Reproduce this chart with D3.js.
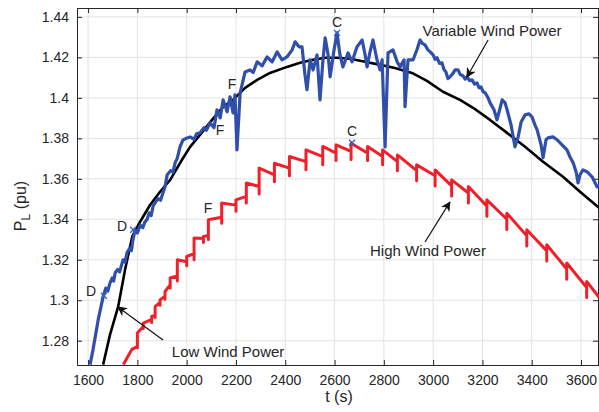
<!DOCTYPE html>
<html>
<head>
<meta charset="utf-8">
<script src="https://cdn.jsdelivr.net/npm/d3@7"></script>
<style>
  body { margin: 0; background: #fff; }
  text { font-family: "Liberation Sans", Arial, sans-serif; fill: #262626; }
</style>
</head>
<body>
<svg id="chart" width="599" height="412"></svg>
<script>
// axis ticks
const xTicks = [1600, 1800, 2000, 2200, 2400, 2600, 2800, 3000, 3200, 3400, 3600];
const yTicks = [1.28, 1.3, 1.32, 1.34, 1.36, 1.38, 1.4, 1.42, 1.44];

// Low wind power (black) [t, P]
const lowWind = [
  [1661, 1.2682], [1689, 1.2830], [1722, 1.2968], [1750, 1.3151], [1779, 1.3314],
  [1811, 1.3388], [1852, 1.3472], [1892, 1.3536], [1933, 1.3595], [1981, 1.3694],
  [2014, 1.3758], [2054, 1.3817], [2103, 1.3891], [2144, 1.3951], [2188, 1.3990],
  [2237, 1.4049], [2286, 1.4089], [2338, 1.4123], [2407, 1.4153], [2460, 1.4173],
  [2513, 1.4188], [2562, 1.4198], [2610, 1.4198], [2663, 1.4193], [2724, 1.4178],
  [2785, 1.4163], [2845, 1.4148], [2914, 1.4123], [2975, 1.4084], [3040, 1.4030],
  [3109, 1.3990], [3162, 1.3951], [3231, 1.3891], [3300, 1.3827], [3373, 1.3758],
  [3446, 1.3684], [3527, 1.3610], [3596, 1.3536], [3673, 1.3457]
];

// High wind power (red) teeth: [t, before jump, dip, after jump]
const highWind = [
  [1743, 1.2682, 1.2682, 1.2682], [1777, 1.2756, 1.2756, 1.2756],
  [1800, 1.2772, 1.2765, 1.2838], [1824, 1.2870, 1.2860, 1.2887],
  [1858, 1.2905, 1.2890, 1.2920], [1872, 1.2925, 1.2915, 1.2969],
  [1892, 1.2990, 1.2975, 1.3002], [1912, 1.3020, 1.3005, 1.3043],
  [1933, 1.3075, 1.3060, 1.3110], [1962, 1.3120, 1.3095, 1.3200],
  [2000, 1.3190, 1.3170, 1.3216], [2030, 1.3230, 1.3200, 1.3307],
  [2068, 1.3305, 1.3285, 1.3315], [2088, 1.3320, 1.3300, 1.3398],
  [2142, 1.3410, 1.3380, 1.3480], [2200, 1.3470, 1.3440, 1.3496],
  [2242, 1.3513, 1.3480, 1.3579], [2294, 1.3562, 1.3525, 1.3653],
  [2356, 1.3620, 1.3585, 1.3677], [2417, 1.3653, 1.3615, 1.3710],
  [2484, 1.3685, 1.3645, 1.3743], [2552, 1.3710, 1.3670, 1.3760],
  [2606, 1.3727, 1.3690, 1.3768], [2667, 1.3735, 1.3695, 1.3776],
  [2734, 1.3727, 1.3690, 1.3760], [2795, 1.3710, 1.3670, 1.3743],
  [2855, 1.3685, 1.3640, 1.3718], [2933, 1.3640, 1.3590, 1.3669],
  [3008, 1.3615, 1.3565, 1.3644], [3075, 1.3565, 1.3515, 1.3595],
  [3143, 1.3530, 1.3480, 1.3562], [3218, 1.3465, 1.3415, 1.3496],
  [3299, 1.3400, 1.3350, 1.3430], [3380, 1.3318, 1.3268, 1.3348],
  [3461, 1.3244, 1.3194, 1.3274], [3542, 1.3154, 1.3104, 1.3184],
  [3623, 1.3063, 1.3013, 1.3093], [3673, 1.3015, 1.3015, 1.3015]
];

// Variable wind power (blue) [t, P]
const variableWind = [
  [1608, 1.2682], [1620, 1.2756], [1641, 1.2904], [1661, 1.3017], [1672, 1.3060],
  [1680, 1.3045], [1689, 1.3086], [1698, 1.3110], [1704, 1.3095], [1710, 1.3136],
  [1720, 1.3152], [1728, 1.3140], [1742, 1.3200], [1750, 1.3188], [1758, 1.3235],
  [1770, 1.3259], [1776, 1.3245], [1782, 1.3300], [1791, 1.3348], [1800, 1.3332],
  [1812, 1.3372], [1822, 1.3358], [1830, 1.3386], [1839, 1.3398], [1848, 1.3432],
  [1856, 1.3418], [1864, 1.3466], [1872, 1.3481], [1884, 1.3502], [1894, 1.3494],
  [1904, 1.3531], [1912, 1.3560], [1921, 1.3620], [1935, 1.3640], [1945, 1.3633],
  [1953, 1.3679], [1962, 1.3702], [1973, 1.3758], [1985, 1.3792], [2002, 1.3802],
  [2014, 1.3807], [2030, 1.3795], [2040, 1.3822], [2054, 1.3827], [2070, 1.3852],
  [2080, 1.3840], [2095, 1.3877], [2111, 1.3852], [2123, 1.3941], [2136, 1.3901],
  [2148, 1.3990], [2164, 1.3931], [2176, 1.4005], [2188, 1.3926], [2196, 1.4015],
  [2204, 1.3743], [2217, 1.4025], [2237, 1.4128], [2257, 1.4138], [2270, 1.4125],
  [2286, 1.4178], [2306, 1.4158], [2326, 1.4202], [2347, 1.4178], [2367, 1.4227],
  [2387, 1.4188], [2407, 1.4202], [2428, 1.4237], [2440, 1.4277], [2456, 1.4252],
  [2468, 1.4252], [2480, 1.4114], [2488, 1.4040], [2501, 1.4188], [2513, 1.4138],
  [2529, 1.4212], [2541, 1.3990], [2553, 1.4188], [2562, 1.4296], [2574, 1.4212],
  [2582, 1.4104], [2598, 1.4237], [2610, 1.4321], [2622, 1.4212], [2634, 1.4153],
  [2655, 1.4222], [2671, 1.4178], [2691, 1.4252], [2712, 1.4286], [2724, 1.4212],
  [2732, 1.4153], [2744, 1.4227], [2756, 1.4286], [2772, 1.4188], [2785, 1.4138],
  [2793, 1.4188], [2805, 1.3758], [2817, 1.4222], [2837, 1.4237], [2854, 1.4178],
  [2866, 1.4153], [2882, 1.4188], [2886, 1.3956], [2898, 1.4188], [2919, 1.4188],
  [2935, 1.4240], [2947, 1.4286], [2957, 1.4268], [2967, 1.4262], [2979, 1.4237],
  [2990, 1.4225], [3000, 1.4212], [3008, 1.4190], [3016, 1.4198], [3026, 1.4170],
  [3036, 1.4173], [3044, 1.4140], [3052, 1.4128], [3060, 1.4095], [3069, 1.4104],
  [3080, 1.4120], [3089, 1.4138], [3101, 1.4138], [3110, 1.4115], [3121, 1.4109],
  [3130, 1.4092], [3138, 1.4104], [3148, 1.4085], [3158, 1.4089], [3168, 1.4068],
  [3178, 1.4074], [3186, 1.4050], [3194, 1.4054], [3203, 1.4030], [3211, 1.4025],
  [3223, 1.4000], [3231, 1.3975], [3247, 1.3941], [3259, 1.3891], [3272, 1.3951],
  [3280, 1.3990], [3292, 1.3975], [3300, 1.3941], [3316, 1.3867], [3332, 1.3758],
  [3345, 1.3807], [3357, 1.3881], [3373, 1.3916], [3389, 1.3921], [3401, 1.3906],
  [3413, 1.3867], [3422, 1.3842], [3438, 1.3768], [3446, 1.3704], [3458, 1.3793],
  [3466, 1.3802], [3486, 1.3807], [3503, 1.3793], [3523, 1.3768], [3543, 1.3743],
  [3555, 1.3709], [3568, 1.3679], [3580, 1.3635], [3588, 1.3580], [3596, 1.3620],
  [3608, 1.3644], [3624, 1.3635], [3645, 1.3610], [3665, 1.3560], [3677, 1.3570]
];

// point markers (x) and their letters
const markers = [
  { t: 1664, p: 1.3022 }, { t: 1783, p: 1.3348 },
  { t: 2610, p: 1.4321 }, { t: 2671, p: 1.3778 }
];
const letters = [
  { text: 'D', t: 1612, p: 1.3021 }, { text: 'D', t: 1738, p: 1.3342 },
  { text: 'C', t: 2610, p: 1.4350 }, { text: 'C', t: 2671, p: 1.3811 },
  { text: 'F', t: 2184, p: 1.4044 }, { text: 'F', t: 2135, p: 1.3816 },
  { text: 'F', t: 2087, p: 1.3431 }
];

// callouts: label position and arrow from -> to
const callouts = [
  { text: 'Variable Wind Power', t: 3239, p: 1.4306, from: [3223, 1.4286], to: [3137, 1.4103] },
  { text: 'High Wind Power', t: 2979, p: 1.3219, from: [2967, 1.3288], to: [3068, 1.3485] },
  { text: 'Low Wind Power', t: 2168, p: 1.2720, from: [1904, 1.2803], to: [1721, 1.2967] }
];

const svg = d3.select('#chart');
const plotLeft = 77, plotRight = 599, plotTop = 8, plotBottom = 365;

const x = d3.scaleLinear().domain([1555, 3673]).range([plotLeft, plotRight]);
const y = d3.scaleLinear().domain([1.268, 1.4444]).range([plotBottom, plotTop]);

const defs = svg.append('defs');
defs.append('clipPath').attr('id', 'plotClip')
  .append('rect')
  .attr('x', plotLeft).attr('y', plotTop)
  .attr('width', plotRight - plotLeft).attr('height', plotBottom - plotTop);

defs.append('marker')
  .attr('id', 'arrowHead')
  .attr('viewBox', '0 0 10 10')
  .attr('refX', 9).attr('refY', 5)
  .attr('markerWidth', 10).attr('markerHeight', 10)
  .attr('markerUnits', 'userSpaceOnUse')
  .attr('orient', 'auto')
  .append('path')
  .attr('d', 'M0,0 L10,5 L0,10 L3,5 Z')
  .attr('fill', '#111');

// grid
const grid = svg.append('g');
grid.selectAll('.vgrid').data(xTicks).enter().append('line')
  .attr('x1', d => x(d)).attr('x2', d => x(d))
  .attr('y1', plotTop).attr('y2', plotBottom)
  .attr('stroke', '#e3e3e3').attr('stroke-width', 1);
grid.selectAll('.hgrid').data(yTicks).enter().append('line')
  .attr('y1', d => y(d)).attr('y2', d => y(d))
  .attr('x1', plotLeft).attr('x2', plotRight)
  .attr('stroke', '#e3e3e3').attr('stroke-width', 1);

// axes with inward ticks
const xAxis = d3.axisBottom(x).tickValues(xTicks).tickSize(-5).tickPadding(10).tickFormat(d3.format('d'));
const yAxis = d3.axisLeft(y).tickValues(yTicks).tickSize(-5).tickPadding(8).tickFormat(d => String(d));

svg.append('g').attr('transform', `translate(0,${plotBottom})`).call(xAxis)
  .call(g => g.selectAll('text').attr('font-size', 14).attr('fill', '#262626'));
svg.append('g').attr('transform', `translate(${plotLeft},0)`).call(yAxis)
  .call(g => g.selectAll('text').attr('font-size', 14).attr('fill', '#262626'));
svg.append('g').attr('transform', `translate(0,${plotTop})`)
  .call(d3.axisTop(x).tickValues(xTicks).tickSize(-5).tickFormat(''));
svg.append('g').attr('transform', `translate(${plotRight - 1},0)`)
  .call(d3.axisRight(y).tickValues(yTicks).tickSize(-5).tickFormat(''));
svg.selectAll('.domain').attr('stroke', '#262626');
svg.selectAll('.tick line').attr('stroke', '#262626');

// series
const plot = svg.append('g').attr('clip-path', 'url(#plotClip)');
const line = d3.line().x(d => x(d[0])).y(d => y(d[1]));

const redPoints = [];
highWind.forEach(([t, pre, dip, hi]) => {
  redPoints.push([t, pre], [t, dip], [t, hi]);
});

plot.append('path').datum(lowWind)
  .attr('d', line).attr('fill', 'none')
  .attr('stroke', '#000').attr('stroke-width', 2.6).attr('stroke-linejoin', 'round');
plot.append('path').datum(redPoints)
  .attr('d', line).attr('fill', 'none')
  .attr('stroke', '#f0202a').attr('stroke-width', 3).attr('stroke-linejoin', 'round');
plot.append('path').datum(variableWind)
  .attr('d', line).attr('fill', 'none')
  .attr('stroke', '#2f4faa').attr('stroke-width', 3.2).attr('stroke-linejoin', 'round');

// x markers
plot.selectAll('.xmark').data(markers).enter().append('path')
  .attr('d', d => {
    const cx = x(d.t), cy = y(d.p), s = 3;
    return `M${cx - s},${cy - s}L${cx + s},${cy + s}M${cx - s},${cy + s}L${cx + s},${cy - s}`;
  })
  .attr('stroke', '#3a5bc4').attr('stroke-width', 1.3);

svg.selectAll('.letter').data(letters).enter().append('text')
  .attr('x', d => x(d.t)).attr('y', d => y(d.p))
  .attr('text-anchor', 'middle')
  .attr('font-size', 14)
  .text(d => d.text);

// callouts
callouts.forEach(c => {
  svg.append('line')
    .attr('x1', x(c.from[0])).attr('y1', y(c.from[1]))
    .attr('x2', x(c.to[0])).attr('y2', y(c.to[1]))
    .attr('stroke', '#111').attr('stroke-width', 1.2)
    .attr('marker-end', 'url(#arrowHead)');
  svg.append('text')
    .attr('x', x(c.t)).attr('y', y(c.p))
    .attr('text-anchor', 'middle')
    .attr('font-size', 15)
    .text(c.text);
});

// axis titles
svg.append('text')
  .attr('x', 339).attr('y', 402)
  .attr('text-anchor', 'middle').attr('font-size', 16)
  .text('t (s)');

const yTitle = svg.append('text')
  .attr('transform', 'translate(26,206) rotate(-90)')
  .attr('text-anchor', 'middle').attr('font-size', 16);
yTitle.append('tspan').text('P');
yTitle.append('tspan').attr('dy', 4).attr('font-size', 12).text('L');
yTitle.append('tspan').attr('dy', -4).text(' (pu)');
</script>
</body>
</html>
